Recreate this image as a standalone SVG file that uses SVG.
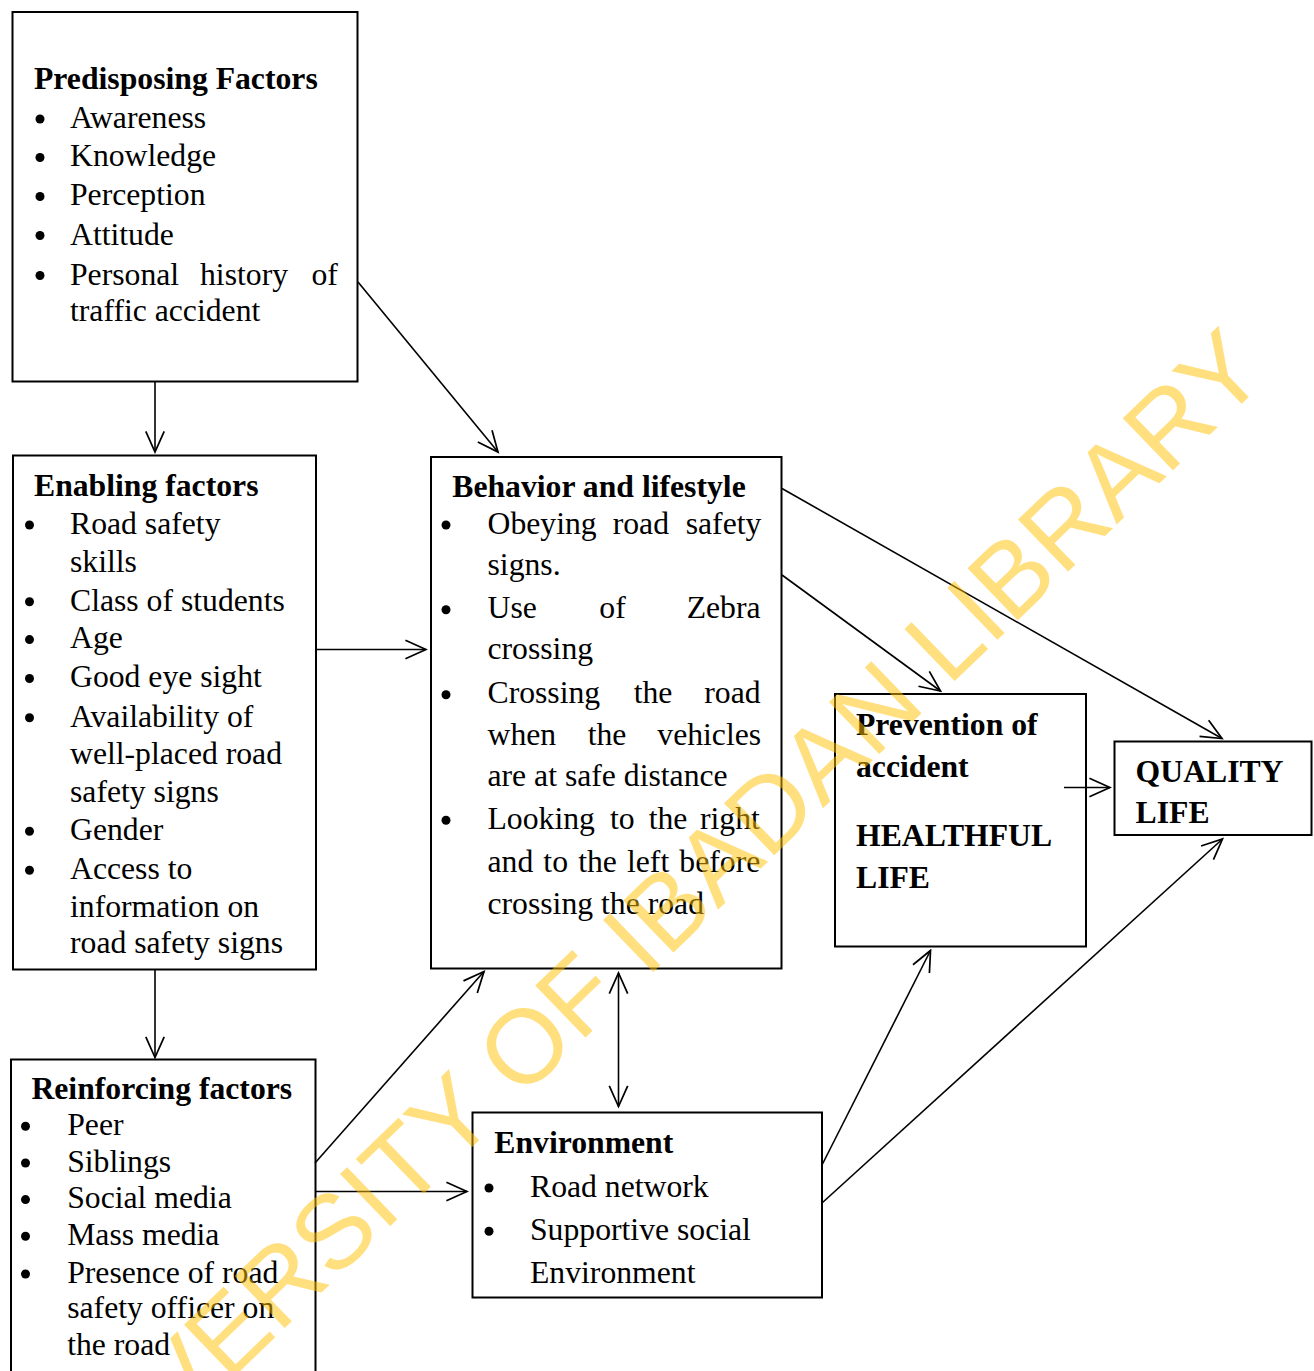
<svg xmlns="http://www.w3.org/2000/svg" width="1314" height="1371" viewBox="0 0 1314 1371">
<style>
.box{fill:none;stroke:#000;stroke-width:2}
.t{font-family:"Liberation Serif","Times New Roman",serif;font-size:31.7px;fill:#000}
.b{font-weight:bold}
.dot{fill:#000}
.c{stroke:#000;stroke-width:1.6;fill:none;marker-end:url(#ah)}
.wm{font-family:"Liberation Sans",Arial,sans-serif;font-size:105px;fill:#FFC000;opacity:0.5}
</style>
<defs>
<marker id="ah" markerUnits="userSpaceOnUse" markerWidth="26" markerHeight="26" viewBox="-22 -12 24 24" refX="0" refY="0" orient="auto-start-reverse">
<path d="M-19,-8.5 L0,0 L-19,8.5" fill="none" stroke="#000" stroke-width="1.6"/>
</marker>
</defs>
<rect width="1314" height="1371" fill="#fff"/>

<g id="predisposing">
<rect class="box" x="12.5" y="12" width="345" height="369.5"/>
<text class="t b" x="34" y="88.5">Predisposing Factors</text>
<circle class="dot" cx="40" cy="119" r="4.5"/><text class="t" x="70" y="127.7">Awareness</text>
<circle class="dot" cx="40" cy="157.5" r="4.5"/><text class="t" x="70" y="166.3">Knowledge</text>
<circle class="dot" cx="40" cy="196.5" r="4.5"/><text class="t" x="70" y="205.3">Perception</text>
<circle class="dot" cx="40" cy="235.5" r="4.5"/><text class="t" x="70" y="244.5">Attitude</text>
<circle class="dot" cx="40" cy="275.5" r="4.5"/><text class="t" y="284.5"><tspan x="70">Personal</tspan><tspan x="200">history</tspan><tspan x="311.5">of</tspan></text>
<text class="t" x="70" y="320.5">traffic accident</text>
</g>

<g id="enabling">
<rect class="box" x="13" y="455.5" width="303" height="514"/>
<text class="t b" x="34" y="495.8">Enabling factors</text>
<circle class="dot" cx="29.5" cy="525" r="4.5"/><text class="t" x="70" y="533.7">Road safety</text>
<text class="t" x="70" y="571.5">skills</text>
<circle class="dot" cx="29.5" cy="601.8" r="4.5"/><text class="t" x="70" y="610.5">Class of students</text>
<circle class="dot" cx="29.5" cy="639.6" r="4.5"/><text class="t" x="70" y="648.3">Age</text>
<circle class="dot" cx="29.5" cy="678.5" r="4.5"/><text class="t" x="70" y="687.2">Good eye sight</text>
<circle class="dot" cx="29.5" cy="717.8" r="4.5"/><text class="t" x="70" y="726.5">Availability of</text>
<text class="t" x="70" y="764.4">well-placed road</text>
<text class="t" x="70" y="801.6">safety signs</text>
<circle class="dot" cx="29.5" cy="831.3" r="4.5"/><text class="t" x="70" y="840">Gender</text>
<circle class="dot" cx="29.5" cy="870.3" r="4.5"/><text class="t" x="70" y="879">Access to</text>
<text class="t" x="70" y="917">information on</text>
<text class="t" x="70" y="953">road safety signs</text>
</g>

<g id="behavior">
<rect class="box" x="431" y="457" width="350.5" height="511.5"/>
<text class="t b" x="452.3" y="496.8">Behavior and lifestyle</text>
<circle class="dot" cx="446" cy="525" r="4.5"/><text class="t" y="533.7"><tspan x="487.5">Obeying</tspan><tspan x="612.7">road</tspan><tspan x="685.7">safety</tspan></text>
<text class="t" x="487.5" y="575">signs.</text>
<circle class="dot" cx="446" cy="609.7" r="4.5"/><text class="t" y="618.4"><tspan x="487.5">Use</tspan><tspan x="599.3">of</tspan><tspan x="686.7">Zebra</tspan></text>
<text class="t" x="487.5" y="659">crossing</text>
<circle class="dot" cx="446" cy="694.7" r="4.5"/><text class="t" y="703.4"><tspan x="487.5">Crossing</tspan><tspan x="633.7">the</tspan><tspan x="704.3">road</tspan></text>
<text class="t" y="744.8"><tspan x="487.5">when</tspan><tspan x="587.7">the</tspan><tspan x="657.3">vehicles</tspan></text>
<text class="t" x="487.5" y="786">are at safe distance</text>
<circle class="dot" cx="446" cy="820.3" r="4.5"/><text class="t" y="829"><tspan x="487.5">Looking</tspan><tspan x="610">to</tspan><tspan x="648.7">the</tspan><tspan x="700">right</tspan></text>
<text class="t" x="487.5" y="872" word-spacing="2.2">and to the left before</text>
<text class="t" x="487.5" y="913.5">crossing the road</text>
</g>

<g id="prevention">
<rect class="box" x="835" y="694" width="251" height="252.5"/>
<text class="t b" x="856" y="735">Prevention of</text>
<text class="t b" x="856" y="776.7">accident</text>
<text class="t b" x="856" y="846">HEALTHFUL</text>
<text class="t b" x="856" y="888.3">LIFE</text>
</g>

<g id="quality">
<rect class="box" x="1114.5" y="741.5" width="197" height="93.5"/>
<text class="t b" x="1135.6" y="781.7">QUALITY</text>
<text class="t b" x="1135.6" y="823.3">LIFE</text>
</g>

<g id="reinforcing">
<rect class="box" x="11" y="1059.5" width="304.5" height="330"/>
<text class="t b" x="31.4" y="1099.3">Reinforcing factors</text>
<circle class="dot" cx="25.5" cy="1126.3" r="4.5"/><text class="t" x="67.2" y="1135">Peer</text>
<circle class="dot" cx="25.5" cy="1163" r="4.5"/><text class="t" x="67.2" y="1171.7">Siblings</text>
<circle class="dot" cx="25.5" cy="1199.6" r="4.5"/><text class="t" x="67.2" y="1208.3">Social media</text>
<circle class="dot" cx="25.5" cy="1236.3" r="4.5"/><text class="t" x="67.2" y="1245">Mass media</text>
<circle class="dot" cx="25.5" cy="1274" r="4.5"/><text class="t" x="67.2" y="1282.7">Presence of road</text>
<text class="t" x="67.2" y="1318.3">safety officer on</text>
<text class="t" x="67.2" y="1355">the road</text>
</g>

<g id="environment">
<rect class="box" x="472.5" y="1112.5" width="349.5" height="185"/>
<text class="t b" x="494.3" y="1152.7">Environment</text>
<circle class="dot" cx="489" cy="1188" r="4.5"/><text class="t" x="530" y="1196.7">Road network</text>
<circle class="dot" cx="489" cy="1231.3" r="4.5"/><text class="t" x="530" y="1240">Supportive social</text>
<text class="t" x="530" y="1283.3">Environment</text>
</g>

<g id="connectors">
<line class="c" x1="155" y1="382" x2="155" y2="452"/>
<line class="c" x1="358" y1="282" x2="498" y2="452"/>
<line class="c" x1="316" y1="649.5" x2="426" y2="649.5"/>
<line class="c" x1="155" y1="970" x2="155" y2="1057.5"/>
<line class="c" x1="782" y1="488.5" x2="1222" y2="738.5"/>
<line class="c" x1="782" y1="575" x2="940.5" y2="691"/>
<line class="c" x1="1064" y1="787.5" x2="1110" y2="787.5"/>
<line class="c" x1="315" y1="1163" x2="484" y2="971.5"/>
<line class="c" x1="315" y1="1191.5" x2="467" y2="1191.5"/>
<line class="c" x1="618.5" y1="973" x2="618.5" y2="1106.5" marker-start="url(#ah)"/>
<line class="c" x1="822" y1="1165" x2="930.5" y2="950.5"/>
<line class="c" x1="822" y1="1203" x2="1222.5" y2="839"/>
</g>

<text class="wm" x="47.6" y="1557" transform="rotate(-44 47.6 1557)">UNIVERSITY OF IBADAN LIBRARY</text>
</svg>
